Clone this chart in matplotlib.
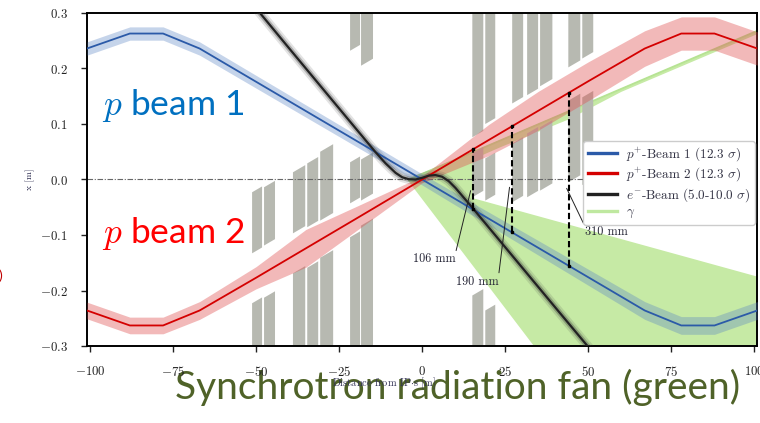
import numpy as np
import matplotlib
matplotlib.use('Agg')
import matplotlib.pyplot as plt
from matplotlib.lines import Line2D

plt.rcParams['font.family'] = 'cmr10'
plt.rcParams['mathtext.fontset'] = 'cm'
plt.rcParams['axes.formatter.use_mathtext'] = True

# ---------------- data ----------------
beam1_s = [-100.9, -88, -78, -67, 0, 67, 78, 88, 100.9]
beam1_x = [0.236, 0.263, 0.263, 0.236, 0.0, -0.236, -0.263, -0.263, -0.236]
beam1_w = [0.012, 0.012, 0.012, 0.012, 0.010, 0.016, 0.016, 0.016, 0.016]

beam2_s = [-100.9, -88, -78, -67, -50, -35, -20, 0, 20, 35, 50, 67, 78, 88, 100.9]
beam2_x = [-0.236, -0.263, -0.263, -0.236, -0.177, -0.124, -0.071, 0.0,
           0.071, 0.124, 0.177, 0.236, 0.263, 0.263, 0.236]
beam2_w = [0.015, 0.015, 0.015, 0.016, 0.020, 0.034, 0.022, 0.006,
           0.028, 0.035, 0.035, 0.032, 0.030, 0.030, 0.030]

ebeam_s = [-52, -40, -30, -20, -14, -11, -8, -6, -4, -2, 0, 2, 4, 6, 8, 10, 12, 15, 20, 30, 40, 52]
ebeam_x = [0.323, 0.236, 0.164, 0.092, 0.049, 0.029, 0.012, 0.004, 0.0005, 0.0, 0.003, 0.007,
           0.008, 0.005, -0.003, -0.015, -0.029, -0.050, -0.086, -0.158, -0.230, -0.316]

gamma_edge_s = [-4.0, 100.9]
gamma_edge_x = [0.0, 0.268]
gamma_fan_s = [-4.5, 100.9, 100.9, 60, 44, 23.5, 15.5, 15.5, 100.9, 100.9, 40.0]
gamma_fan_x = [0.0, 0.268, 0.262, 0.158, 0.108, 0.058, 0.037, -0.034, -0.175, -0.35, -0.35]

# magnet pieces: s start, s end, lower / upper x at s start
mag_s0 = [-51.2, -51.2, -47.6, -47.6,
          -38.9, -38.9, -34.6, -34.6, -30.7, -30.7,
          -21.7, -21.7, -21.7, -18.4, -18.4, -18.4,
          15.1, 15.1, 15.1, 19.0, 19.0, 19.0,
          27.1, 27.1, 31.6, 31.6, 35.5, 35.5,
          44.0, 44.0, 48.2, 48.2]
mag_s1 = [-48.2, -48.2, -44.3, -44.3,
          -35.2, -35.2, -31.3, -31.3, -26.8, -26.8,
          -18.7, -18.7, -18.7, -14.8, -14.8, -14.8,
          18.4, 18.4, 18.4, 22.0, 22.0, 22.0,
          30.4, 30.4, 34.9, 34.9, 39.2, 39.2,
          47.6, 47.6, 51.5, 51.5]
mag_lo = [-0.133, -0.40, -0.119, -0.40,
          -0.097, -0.40, -0.086, -0.40, -0.074, -0.40,
          -0.043, -0.40, 0.232, -0.038, -0.40, 0.205,
          0.076, -0.032, -0.40, 0.100, -0.038, -0.40,
          0.137, -0.041, 0.152, -0.032, 0.168, -0.020,
          0.202, -0.005, 0.218, -0.010]
mag_hi = [-0.023, -0.223, -0.014, -0.213,
          0.013, -0.169, 0.029, -0.159, 0.050, -0.141,
          0.031, -0.104, 0.40, 0.036, -0.083, 0.40,
          0.40, 0.047, -0.209, 0.40, 0.038, -0.236,
          0.40, 0.065, 0.40, 0.083, 0.40, 0.094,
          0.40, 0.142, 0.40, 0.148]
mag_slope = 0.0035

sep_s = [15.3, 27.0, 44.2]
sep_text = ['106 mm', '190 mm', '310 mm']
sep_tip_x = [-0.020, -0.014, -0.016]
sep_lab_s = [3.6, 16.6, 55.4]
sep_lab_x = [-0.144, -0.184, -0.095]
sep_relpos = [(1.0, 1.0), (1.0, 1.0), (0.0, 1.0)]

xticks = [-100, -75, -50, -25, 0, 25, 50, 75, 100]
yticks = [-0.3, -0.2, -0.1, 0.0, 0.1, 0.2, 0.3]

legend_labels = [r'$p^{+}$-Beam 1 (12.3 $\sigma$)', r'$p^{+}$-Beam 2 (12.3 $\sigma$)',
                 r'$e^{-}$-Beam (5.0-10.0 $\sigma$)', r'$\gamma$']

# ---------------- colours ----------------
c_blue = '#2b5aa8'
c_red = '#d40000'
c_black = '#222222'
c_green = '#c6eaa5'
c_green_line = '#b6e393'
c_mag = '#b7b9b1'

fig = plt.figure(figsize=(7.6, 4.23), dpi=100)
ax = fig.add_axes([87 / 760, 1 - 346 / 423, 670 / 760, 333 / 423])
ax.set_xlim(-100.9, 100.8)
ax.set_ylim(-0.3, 0.3)

# gamma fan
ax.fill(gamma_fan_s, gamma_fan_x, color=c_green, lw=0, zorder=1)
ax.plot(gamma_edge_s, gamma_edge_x, color=c_green_line, lw=1.3, zorder=1.5)

# magnets
for s0, s1, lo, hi in zip(mag_s0, mag_s1, mag_lo, mag_hi):
    d = mag_slope * (s1 - s0)
    ax.fill([s0, s1, s1, s0], [lo, lo + d, hi + d, hi], color=c_mag, lw=0, zorder=2)

# zero line
ax.axhline(0, color='#666666', lw=0.8, ls='-.', dashes=(5, 1.5, 1, 1.5), zorder=2.5)

# beams
b1s, b1x, b1w = map(np.array, (beam1_s, beam1_x, beam1_w))
b2s, b2x, b2w = map(np.array, (beam2_s, beam2_x, beam2_w))
ax.fill_between(b1s, b1x - b1w, b1x + b1w, color='#5b84c4', alpha=0.35, lw=0, zorder=3)
ax.fill_between(b2s, b2x - b2w, b2x + b2w, color='#e05050', alpha=0.4, lw=0, zorder=3)
ax.plot(ebeam_s, ebeam_x, color='#444444', lw=7, alpha=0.15, zorder=3.2, solid_capstyle='butt')
ax.plot(ebeam_s, ebeam_x, color='#333333', lw=4, alpha=0.3, zorder=3.3, solid_capstyle='butt')
ax.plot(b1s, b1x, color=c_blue, lw=1.3, zorder=4)
ax.plot(b2s, b2x, color=c_red, lw=1.3, zorder=4)
ax.plot(ebeam_s, ebeam_x, color=c_black, lw=1.6, zorder=4.2)

# separations
for s, txt, tx, ls, lx, rp in zip(sep_s, sep_text, sep_tip_x, sep_lab_s, sep_lab_x, sep_relpos):
    top = np.interp(s, b2s, b2x)
    bot = np.interp(s, b1s, b1x)
    ax.plot([s, s], [bot, top], color='black', lw=1.5, ls=(0, (3, 1.5)), zorder=5)
    ax.plot([s], [top], marker='s', ms=2, color='black', zorder=5)
    ax.plot([s], [bot], marker='s', ms=2, color='black', zorder=5)
    ax.annotate(txt, xy=(s - 0.7, tx), xytext=(ls, lx), ha='center', va='center',
                fontsize=8.8, color='#222233', zorder=6,
                arrowprops=dict(arrowstyle='-', color='#222222', lw=0.7,
                                shrinkA=0, shrinkB=0, relpos=rp))

# axes styling
ax.set_xticks(xticks)
ax.set_yticks(yticks)
ax.xaxis.set_major_formatter(matplotlib.ticker.FuncFormatter(lambda v, p: r'$%d$' % v if v >= 0 else r'$-%d$' % (-v)))
ax.yaxis.set_major_formatter(matplotlib.ticker.FuncFormatter(lambda v, p: r'$%.1f$' % v if v >= -1e-9 else r'$-%.1f$' % (-v)))
ax.tick_params(direction='out', length=4, width=1.0, pad=10, labelsize=9.3, colors='#222222')
for sp in ax.spines.values():
    sp.set_linewidth(1.4)
ax.set_ylabel('x [m]', fontsize=7, color='#333355')
ax.yaxis.set_label_coords(-0.077, 0.5)
ax.set_xlabel(r'Distance from IP$\cdot$s [m]', fontsize=7.5, color='#333355', va='center')
ax.xaxis.set_label_coords(0.443, -0.111)

handles = [Line2D([], [], color=c, lw=2.4) for c in (c_blue, c_red, c_black, '#bfe8a0')]
leg = ax.legend(handles, legend_labels, loc='upper right', bbox_to_anchor=(0.997, 0.616),
                fontsize=9.5, labelspacing=0.18, handlelength=2.2, handletextpad=0.7,
                borderpad=0.35, borderaxespad=0.0,
                framealpha=1, edgecolor='#cccccc', fancybox=True)
leg.set_zorder(7)
for t in leg.get_texts():
    t.set_color('#333344')

# presentation overlays
fig.text(102 / 760, 1 - 115 / 423, r'$p$ beam 1', family='Lato', fontsize=25.5, color='#0070C0', va='baseline')
fig.text(102 / 760, 1 - 243 / 423, r'$p$ beam 2', family='Lato', fontsize=25.5, color='#FF0000', va='baseline')
fig.text(175 / 760, 1 - 399 / 423, 'Synchrotron radiation fan (green)', family='Lato',
         fontsize=28.0, color='#4F6228', va='baseline', zorder=-1)
fig.text(0.0, 1 - 280 / 423, ')', family='Lato', fontsize=10, color='#C00000', ha='center', va='baseline')

fig.savefig('out.png', dpi=100)
